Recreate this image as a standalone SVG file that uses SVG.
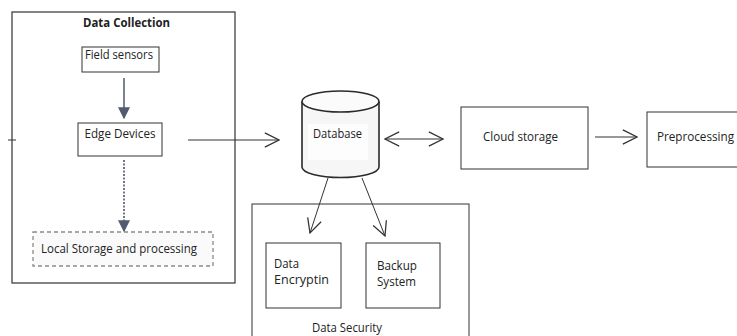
<svg xmlns="http://www.w3.org/2000/svg" width="737" height="336" viewBox="0 0 737 336">
  <style>
    text { font-family: "Open Sans", "Noto Sans", "DejaVu Sans", sans-serif; font-size: 12px; fill: #222; }
    .title { font-weight: bold; font-size: 12.5px; }
    .box { fill: #fff; stroke: #333; stroke-width: 1; }
    .frame { fill: #fff; stroke: #333; stroke-width: 1.2; }
    .dashed { fill: #fafafa; stroke: #8a8a8a; stroke-width: 1.3; stroke-dasharray: 4 3; }
    .line { fill: none; stroke: #333; stroke-width: 1; }
    .flow { stroke: #5a6278; stroke-width: 1.6; fill: none; }
    .dots { stroke: #707888; stroke-width: 2; stroke-dasharray: 2 1.5; fill: none; }
  </style>
  <defs>
    <marker id="open" viewBox="0 0 12 12" refX="11" refY="6" markerWidth="17" markerHeight="17" markerUnits="userSpaceOnUse" orient="auto-start-reverse">
      <path d="M1 1 L11 6 L1 11" fill="none" stroke="#333" stroke-width="0.9"/>
    </marker>
    <marker id="solid" viewBox="0 0 10 10" refX="9" refY="5" markerWidth="12" markerHeight="12" markerUnits="userSpaceOnUse" orient="auto">
      <path d="M0 0 L10 5 L0 10 Z" fill="#525a6e"/>
    </marker>
  </defs>

  <rect width="737" height="336" fill="#fff"/>

  <!-- Data collection frame -->
  <g id="data-collection">
    <rect class="frame" x="12" y="12" width="223" height="271"/>
    <text class="title" x="126.5" y="27" text-anchor="middle" textLength="87" lengthAdjust="spacingAndGlyphs">Data Collection</text>
  </g>

  <g id="field-sensors">
    <rect class="box" x="82" y="47" width="77" height="25"/>
    <text x="119" y="59" text-anchor="middle" textLength="68" lengthAdjust="spacingAndGlyphs">Field sensors</text>
  </g>

  <g id="edge-devices">
    <rect class="box" x="78" y="123" width="84" height="33"/>
    <text x="120" y="138" text-anchor="middle" textLength="71" lengthAdjust="spacingAndGlyphs">Edge Devices</text>
  </g>

  <g id="local-storage">
    <rect class="dashed" x="33" y="232" width="180" height="34"/>
    <text x="41" y="253" textLength="156" lengthAdjust="spacingAndGlyphs">Local Storage and processing</text>
  </g>

  <!-- Database cylinder -->
  <g id="database">
    <path d="M302 101.5 L302 167 A38.5 10.5 0 0 0 379 167 L379 101.5" fill="#f6f6f6" stroke="#2a2a2a" stroke-width="1.6"/>
    <ellipse cx="340.5" cy="101.5" rx="38.5" ry="10.5" fill="#fbfbfb" stroke="#2a2a2a" stroke-width="1.6"/>
    <rect x="308" y="124" width="60" height="36" fill="#fdfdfd"/>
    <text x="313" y="138" textLength="49" lengthAdjust="spacingAndGlyphs">Database</text>
  </g>

  <g id="cloud-storage">
    <rect class="box" x="461" y="107" width="127" height="62"/>
    <text x="483" y="141" textLength="75" lengthAdjust="spacingAndGlyphs">Cloud storage</text>
  </g>

  <g id="preprocessing">
    <rect class="box" x="647" y="112" width="100" height="55"/>
    <text x="657" y="141" textLength="77" lengthAdjust="spacingAndGlyphs">Preprocessing</text>
  </g>

  <!-- Data security frame -->
  <g id="data-security">
    <rect class="box" x="252" y="204" width="217" height="140"/>
    <text x="347" y="332" text-anchor="middle" textLength="70" lengthAdjust="spacingAndGlyphs">Data Security</text>
  </g>

  <g id="data-encryption">
    <rect class="box" x="266" y="243" width="75" height="65"/>
    <text x="274" y="268" textLength="25" lengthAdjust="spacingAndGlyphs">Data</text>
    <text x="274" y="284" textLength="55" lengthAdjust="spacingAndGlyphs">Encryptin</text>
  </g>

  <g id="backup-system">
    <rect class="box" x="366" y="243" width="74" height="65"/>
    <text x="377" y="270" textLength="40" lengthAdjust="spacingAndGlyphs">Backup</text>
    <text x="377" y="286" textLength="39" lengthAdjust="spacingAndGlyphs">System</text>
  </g>

  <!-- Connectors -->
  <g id="connectors">
    <line class="flow" x1="124" y1="78" x2="124" y2="118" marker-end="url(#solid)"/>
    <line class="dots" x1="124" y1="160" x2="124" y2="231" marker-end="url(#solid)"/>
    <line class="line" x1="188" y1="140" x2="279" y2="140" marker-end="url(#open)"/>
    <line class="line" x1="385" y1="139" x2="443" y2="139" marker-start="url(#open)" marker-end="url(#open)"/>
    <line class="line" x1="595" y1="137" x2="637" y2="137" marker-end="url(#open)"/>
    <line class="line" x1="328" y1="178" x2="310" y2="233" marker-end="url(#open)"/>
    <line class="line" x1="362" y1="178" x2="385" y2="236" marker-end="url(#open)"/>
    <line class="line" x1="8" y1="140" x2="16" y2="140"/>
  </g>
</svg>
